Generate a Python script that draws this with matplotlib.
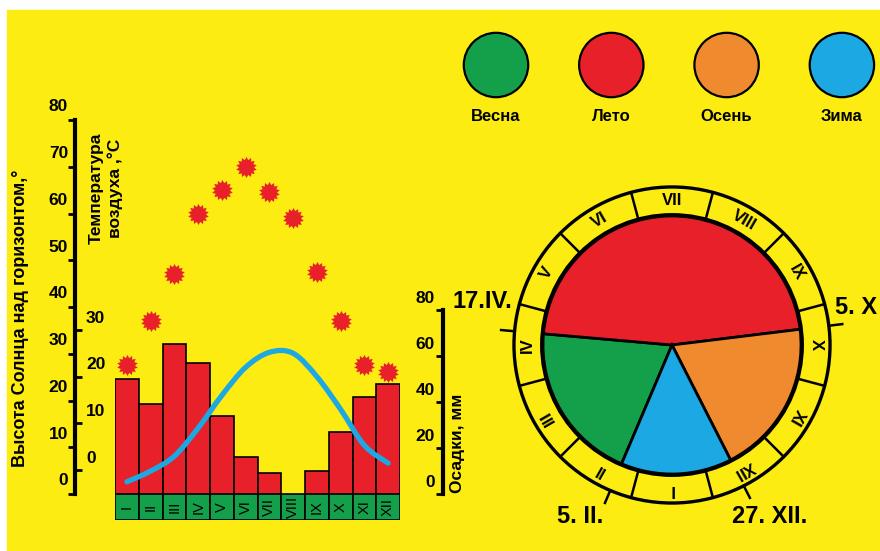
import numpy as np
import matplotlib
matplotlib.use('Agg')
import matplotlib.pyplot as plt
from matplotlib.patches import Rectangle, Circle, PathPatch
from matplotlib.path import Path

W, H = 880, 551

# climate chart data
months = ['I', 'II', 'III', 'IV', 'V', 'VI', 'VII', 'VIII', 'IX', 'X', 'XI', 'XII']
precip_mm = [50, 39, 65, 57, 34, 16, 9, 0, 10, 27, 42, 48]
temp_c = [-2.5, -0.2, 3, 9, 16, 22, 25.2, 25, 20, 13, 5.3, 1.5]
sun_alt = [27.5, 37, 47, 60, 65, 70, 64.5, 59, 47.5, 37, 27.5, 26]

sun_ticks = [0, 10, 20, 30, 40, 50, 60, 70, 80]
temp_ticks = [0, 10, 20, 30]
precip_ticks = [0, 20, 40, 60, 80]

# seasons (pie sectors as drawn, degrees, clockwise from 5.II)
seasons = ['Весна', 'Лето', 'Осень', 'Зима']
season_deg = [72, 168, 70, 50]
season_dates = ['5. II.', '17.IV.', '5. X', '27. XII.']

YELLOW = '#fcec12'
RED = '#e8202a'
GREEN = '#14a04a'
ORANGE = '#ef8a2e'
BLUE = '#1ca8e2'
season_colors = [GREEN, RED, ORANGE, BLUE]

FONT = ['Liberation Sans', 'DejaVu Sans']


def px_box(x0, y0, x1, y1):
    # pixel box (top-left origin) -> figure fraction rect
    return [x0 / W, 1 - y1 / H, (x1 - x0) / W, (y1 - y0) / H]


def fig_text(x, y, s, **kw):
    fig.text(x / W, 1 - y / H, s, **kw)


fig = plt.figure(figsize=(W / 100, H / 100), dpi=100, facecolor='white')
fig.add_artist(Rectangle((7 / W, 0), 1, 1 - 10 / H, transform=fig.transFigure,
                         color=YELLOW, zorder=-10))

x = np.arange(len(months))
chart_box = px_box(115, 120, 400, 494)
sun_pos = -40 / 285
prec_pos = 1 + 43 / 285

# --- precipitation bars
ax_p = fig.add_axes(chart_box, facecolor='none')
ax_p.bar(x, precip_mm, width=1, color=RED, edgecolor='black', linewidth=1.2)
ax_p.set_xlim(-0.5, 11.5)
ax_p.set_ylim(0, 162.6)
for s in ['top', 'right', 'bottom']:
    ax_p.spines[s].set_visible(False)
ax_p.spines['left'].set_position(('axes', prec_pos))
ax_p.spines['left'].set_bounds(0, 80)
ax_p.spines['left'].set_linewidth(3)
ax_p.set_xticks([])
ax_p.set_yticks(precip_ticks)
ax_p.tick_params(axis='y', direction='out', length=5, width=2, labelleft=False)
for v in precip_ticks:
    ax_p.annotate(str(v), xy=(prec_pos, v), xycoords=('axes fraction', 'data'),
                  xytext=(-6, 3), textcoords='offset points', ha='right', va='bottom',
                  fontsize=12.5, fontweight='bold', family=FONT)

# --- temperature curve
ax_t = fig.add_axes(chart_box, facecolor='none')
ax_t.set_xlim(-0.5, 11.5)
ax_t.set_ylim(-5.1, 74.9)
for s in ['top', 'left', 'bottom']:
    ax_t.spines[s].set_visible(False)
ax_t.yaxis.tick_right()
ax_t.spines['right'].set_position(('axes', sun_pos))
ax_t.spines['right'].set_linewidth(0)
ax_t.set_xticks([])
ax_t.set_yticks(temp_ticks)
ax_t.tick_params(axis='y', direction='out', length=5, width=2, labelright=False)
for v in temp_ticks:
    ax_t.annotate(str(v), xy=(sun_pos, v), xycoords=('axes fraction', 'data'),
                  xytext=(8, 3), textcoords='offset points', ha='left', va='bottom',
                  fontsize=12.5, fontweight='bold', family=FONT)

pts = np.column_stack([x, temp_c])
ext = np.vstack([pts[0], pts, pts[-1]])
verts, codes = [pts[0]], [Path.MOVETO]
for i in range(len(pts) - 1):
    p0, p1, p2, p3 = ext[i], ext[i + 1], ext[i + 2], ext[i + 3]
    verts += [p1 + (p2 - p0) / 6, p2 - (p3 - p1) / 6, p2]
    codes += [Path.CURVE4] * 3
ax_t.add_patch(PathPatch(Path(verts, codes), fill=False, edgecolor=BLUE,
                         linewidth=3.8, capstyle='round'))

# --- sun altitude
ax_s = fig.add_axes(chart_box, facecolor='none')
ax_s.set_xlim(-0.5, 11.5)
ax_s.set_ylim(0, 80)
for s in ['top', 'right', 'bottom']:
    ax_s.spines[s].set_visible(False)
ax_s.spines['left'].set_position(('axes', sun_pos))
ax_s.spines['left'].set_linewidth(3)
ax_s.set_xticks([])
ax_s.set_yticks(sun_ticks)
ax_s.tick_params(axis='y', direction='out', length=5, width=2, labelleft=False)
for v in sun_ticks:
    ax_s.annotate(str(v), xy=(sun_pos, v), xycoords=('axes fraction', 'data'),
                  xytext=(-5, 4), textcoords='offset points', ha='right', va='bottom',
                  fontsize=12.5, fontweight='bold', family=FONT)
sun_marker = Path.unit_regular_star(14, innerCircle=0.72)
ax_s.scatter(x, sun_alt, marker=sun_marker, s=230, color=RED, linewidths=0,
             clip_on=False, zorder=3)

# --- month strip
ax_m = fig.add_axes(px_box(115, 494, 400, 520), facecolor='none')
ax_m.bar(x, [1] * len(months), width=1, color=GREEN, edgecolor='black', linewidth=1.2)
ax_m.set_xlim(-0.5, 11.5)
ax_m.set_ylim(0, 1)
ax_m.axis('off')
for i, m in enumerate(months):
    ax_m.text(i, 0.5, m, rotation=90, ha='center', va='center', fontsize=10.5, family=FONT)

# --- axis titles
fig_text(21, 318, 'Высота Солнца над горизонтом,°', rotation=90, ha='center', va='center',
         fontsize=13, fontweight='bold', family=FONT)
fig_text(106, 188, 'Температура\nвоздуха ,°С', rotation=90, ha='center', va='center',
         fontsize=12.5, fontweight='bold', family=FONT, linespacing=1.3)
fig_text(457, 443, 'Осадки, мм', rotation=90, ha='center', va='center',
         fontsize=12.5, fontweight='bold', family=FONT)

# --- legend circles
ax_l = fig.add_axes(px_box(450, 30, 880, 100), facecolor='none')
unit = 115.3
ax_l.set_xlim(-(496 - 450) / unit, (880 - 496) / unit)
ax_l.set_ylim(-1, 1)
ax_l.axis('off')
ax_l.scatter(range(len(seasons)), [0] * len(seasons), s=2150, c=season_colors,
             edgecolors='black', linewidths=1.6, clip_on=False)
for i, name in enumerate(seasons):
    ax_l.annotate(name, xy=(i, 0), xytext=(0, -37), textcoords='offset points',
                  ha='center', va='center', fontsize=12, fontweight='bold', family=FONT)

# --- season clock
ax_c = fig.add_axes(px_box(472, 145, 872, 545), facecolor='none')
start = 247
ax_c.pie(season_deg, colors=season_colors, startangle=start, counterclock=False, radius=1,
         wedgeprops=dict(edgecolor='black', linewidth=2))
lim = 200 / 129
ax_c.set_xlim(-lim, lim)
ax_c.set_ylim(-lim, lim)
ax_c.set_aspect('equal')
ax_c.axis('off')

r_in, r_out = 1.01, 1.225
ax_c.add_patch(Circle((0, 0), r_in, fill=False, linewidth=2.4, edgecolor='black'))
ax_c.add_patch(Circle((0, 0), r_out, fill=False, linewidth=2.4, edgecolor='black'))
for k in range(12):
    a = np.radians(15 + 30 * k)
    ax_c.plot([r_in * np.cos(a), r_out * np.cos(a)], [r_in * np.sin(a), r_out * np.sin(a)],
              color='black', linewidth=1.8)
for i, m in enumerate(months):
    ang = 270 - 30 * i
    a = np.radians(ang)
    rm = (r_in + r_out) / 2
    ax_c.text(rm * np.cos(a), rm * np.sin(a), m, rotation=ang - 90, rotation_mode='anchor',
              ha='center', va='center', fontsize=12, fontweight='bold', family=FONT)

bounds = start - np.concatenate([[0], np.cumsum(season_deg)[:-1]])
date_xy = [(-0.713, -1.333), (-1.473, 0.341), (1.264, 0.287), (0.760, -1.333)]
date_ha = ['center', 'center', 'left', 'center']
for b, lab, xy, ha in zip(bounds, season_dates, date_xy, date_ha):
    a = np.radians(b)
    ax_c.plot([r_out * np.cos(a), 1.33 * np.cos(a)], [r_out * np.sin(a), 1.33 * np.sin(a)],
              color='black', linewidth=1.8, clip_on=False)
    ax_c.text(xy[0], xy[1], lab, ha=ha, va='center', fontsize=17, fontweight='bold',
              family=FONT)

fig.savefig('out.png', dpi=100)
